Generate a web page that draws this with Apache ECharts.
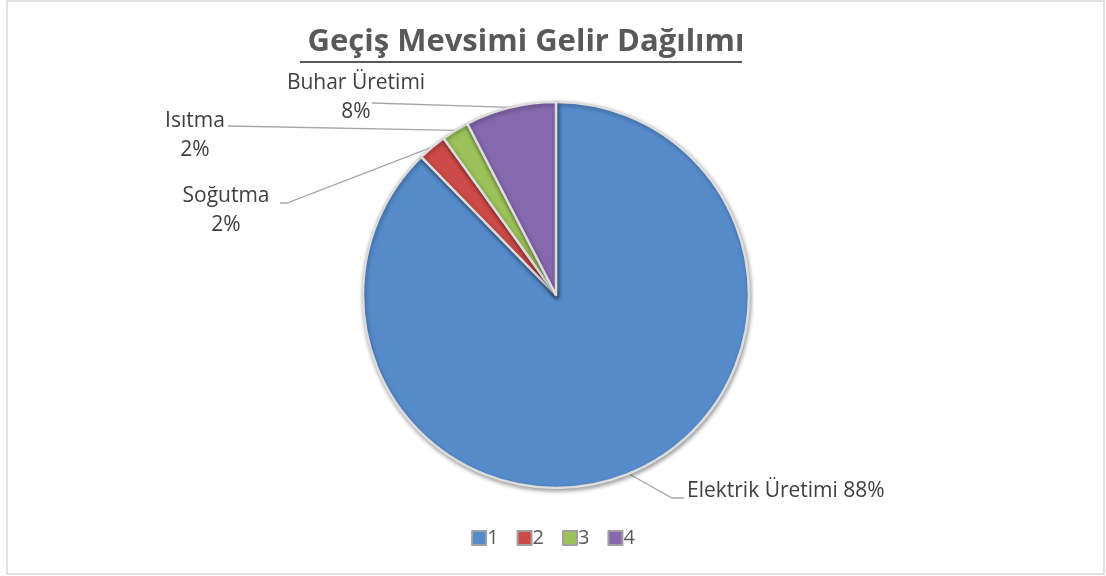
<!DOCTYPE html>
<html>
<head>
<meta charset="utf-8">
<script src="https://cdn.jsdelivr.net/npm/echarts@6/dist/echarts.min.js"></script>
<style>
html,body{margin:0;padding:0;background:#fff;}
#chart{width:1106px;height:576px;}
</style>
</head>
<body>
<div id="chart"></div>
<script>
// Data
const legendNames = ['1', '2', '3', '4'];
const categoryLabels = ['Elektrik Üretimi', 'Soğutma', 'Isıtma', 'Buhar Üretimi'];
const values = [87.7, 2.4, 2.3, 7.6];
const colors = ['#568BCB', '#CC4A47', '#9CC25A', '#8668AE'];

const chart = echarts.init(document.getElementById('chart'));

// label anchor positions (layout only)
const labelPos = [
  { x: 687, y: 491, align: 'left', line: [[672, 498], [684, 498]] },
  { x: 226, y: 211, align: 'center', line: [[287, 203], [280, 203]] },
  { x: 195, y: 136, align: 'center', line: [[228, 126], [228, 126]] },
  { x: 356, y: 98, align: 'center', line: [[372, 103], [372, 103]] }
];

const option = {
  backgroundColor: '#ffffff',
  title: {
    text: 'Geçiş Mevsimi Gelir Dağılımı',
    left: 521,
    top: 22,
    textAlign: 'center',
    textStyle: {
      fontFamily: 'Open Sans',
      fontWeight: 'bold',
      fontSize: 31,
      color: '#595959'
    }
  },
  graphic: [
    { type: 'rect', shape: { x: 7, y: 1, width: 1097, height: 573 },
      style: { fill: 'none', stroke: '#d9d9d9', lineWidth: 1.5 }, silent: true },
    { type: 'rect', shape: { x: 300, y: 61, width: 442, height: 2 },
      style: { fill: '#595959' }, silent: true }
  ],
  legend: {
    top: 523,
    left: 'center',
    icon: 'rect',
    itemWidth: 14,
    itemHeight: 14,
    itemGap: 18,
    textStyle: { fontFamily: 'Open Sans', fontSize: 20, color: '#595959', padding: [0, 0, 0, -4] },
    itemStyle: { borderColor: '#a0a0a0', borderWidth: 2 },
    data: legendNames
  },
  series: [{
    type: 'pie',
    center: [556, 295],
    radius: 193,
    startAngle: 90,
    clockwise: true,
    avoidLabelOverlap: false,
    data: values.map((v, i) => ({
      name: legendNames[i],
      value: v,
      itemStyle: { color: colors[i] }
    })),
    itemStyle: {
      borderColor: '#dcdcdc',
      borderWidth: 2.5,
      shadowBlur: 4,
      shadowColor: 'rgba(0,0,0,0.35)',
      shadowOffsetX: 1,
      shadowOffsetY: 2
    },
    label: {
      show: true,
      position: 'outside',
      fontFamily: 'Open Sans',
      fontSize: 21,
      lineHeight: 29,
      color: '#404040',
      formatter: function (p) {
        const pct = Math.round(p.percent) + '%';
        return p.dataIndex === 0 ? categoryLabels[0] + ' ' + pct : categoryLabels[p.dataIndex] + '\n' + pct;
      }
    },
    labelLine: {
      show: true,
      lineStyle: { color: '#a6a6a6', width: 1.3 }
    },
    labelLayout: function (params) {
      const lp = labelPos[params.dataIndex];
      const start = params.labelLinePoints ? params.labelLinePoints[0] : [0, 0];
      return {
        x: lp.x,
        y: lp.y,
        align: lp.align,
        verticalAlign: 'middle',
        labelLinePoints: [start, lp.line[0], lp.line[1]]
      };
    },
    emphasis: { disabled: true }
  }]
};
chart.setOption(option);
</script>
</body>
</html>
